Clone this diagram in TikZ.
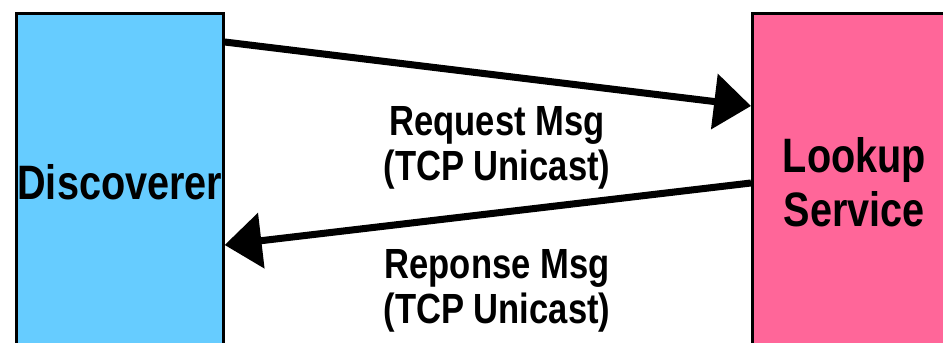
\documentclass[tikz,border=0pt]{standalone}
\usepackage{fontspec}
\setmainfont{Liberation Sans}[FakeStretch=0.82]
\usetikzlibrary{arrows.meta,calc}

\definecolor{discblue}{HTML}{66CCFF}
\definecolor{lookpink}{HTML}{FF6699}

\tikzset{
	box/.style={draw=black, line width=1.5pt, rectangle, anchor=north west, minimum height=67.6mm,
		inner sep=0pt, align=center, font=\fontsize{27.5}{31}\selectfont\bfseries},
	msg/.style={line width=4pt, -{Triangle[length=21pt, width=31pt]}},
	msglabel/.style={align=center, font=\fontsize{24}{25.5}\selectfont\bfseries}
}

\begin{document}
\begin{tikzpicture}[x=0.2mm, y=-0.2mm]
		\useasboundingbox (0,0) rectangle (943,343);
		\clip (0,0) rectangle (943,343);
		
		%the two parties
		\node[box, fill=discblue, minimum width=41.4mm] (disc) at (15,12) {Discoverer};
		\node[box, fill=lookpink, minimum width=40.8mm] (lookup) at (751,12) {Lookup\\Service};
		
		%end points on the box sides
		\coordinate (req start) at ($(disc.north east)+(0,30)$);
		\coordinate (req end) at ($(lookup.north west)+(0,94)$);
		\coordinate (resp start) at ($(lookup.north west)+(0,171)$);
		\coordinate (resp end) at ($(disc.north east)+(0,233)$);
		
		\draw[msg] (req start) -- (req end);
		\draw[msg] (resp start) -- (resp end);
		
		\node[msglabel] (req) at (497,148) {Request Msg\\(TCP Unicast)};
		\node[msglabel] (resp) at (497,291) {Reponse Msg\\(TCP Unicast)};
\end{tikzpicture}
\end{document}
